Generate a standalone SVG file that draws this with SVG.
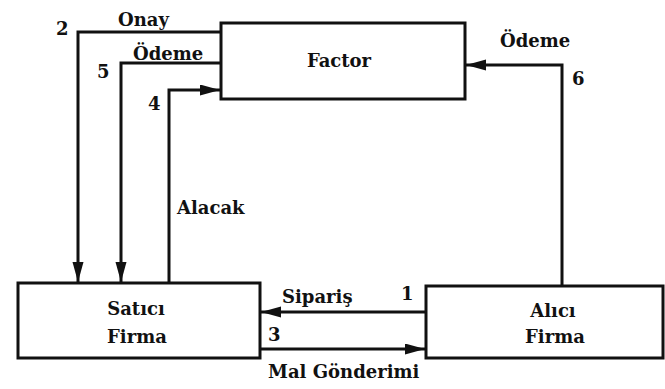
<svg xmlns="http://www.w3.org/2000/svg" width="665" height="389" viewBox="0 0 665 389">
<style>
.box{fill:#fff;stroke:#111;stroke-width:3}
.ln{fill:none;stroke:#111;stroke-width:3}
.t{font-family:'DejaVu Serif','Liberation Serif',serif;font-weight:bold;font-size:18px;fill:#111}
.m{text-anchor:middle}
</style>
<defs>
<marker id="ah" markerUnits="userSpaceOnUse" markerWidth="22" markerHeight="12" refX="20" refY="5.5" orient="auto">
<path d="M0,0 L20,5.5 L0,11 z" fill="#111"/>
</marker>
</defs>
<rect width="665" height="389" fill="#fff"/>
<g id="connectors">
<polyline class="ln" points="221,32 78,32 78,282" marker-end="url(#ah)"/>
<polyline class="ln" points="221,63 121,63 121,282" marker-end="url(#ah)"/>
<polyline class="ln" points="169,283 169,90 220,90" marker-end="url(#ah)"/>
<polyline class="ln" points="562,286 562,65 466,65" marker-end="url(#ah)"/>
<line class="ln" x1="426" y1="312" x2="261" y2="312" marker-end="url(#ah)"/>
<line class="ln" x1="260" y1="349" x2="425" y2="349" marker-end="url(#ah)"/>
<text class="t" x="56" y="35">2</text>
<text class="t" x="118" y="26">Onay</text>
<text class="t" x="97" y="78">5</text>
<text class="t" x="133" y="60">Ödeme</text>
<text class="t" x="148" y="110">4</text>
<text class="t" x="177" y="214">Alacak</text>
<text class="t" x="500" y="47">Ödeme</text>
<text class="t" x="572" y="85">6</text>
<text class="t" x="282" y="303">Sipariş</text>
<text class="t" x="401" y="300">1</text>
<text class="t" x="268" y="341">3</text>
<text class="t" x="268" y="378">Mal Gönderimi</text>
</g>
<g id="factor">
<rect class="box" x="221" y="23" width="244" height="76"/>
<text class="t m" x="339" y="67">Factor</text>
</g>
<g id="satici">
<rect class="box" x="18" y="283" width="242" height="75"/>
<text class="t m" x="136" y="315">Satıcı</text>
<text class="t m" x="137" y="343">Firma</text>
</g>
<g id="alici">
<rect class="box" x="426" y="286" width="237" height="72"/>
<text class="t m" x="553" y="317">Alıcı</text>
<text class="t m" x="555" y="343">Firma</text>
</g>
</svg>
